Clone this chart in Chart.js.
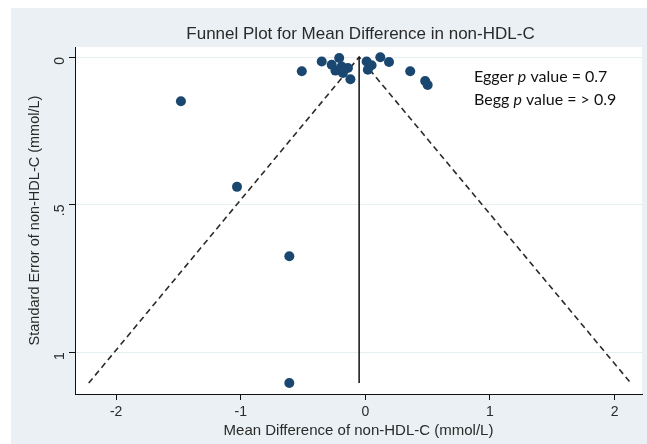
<!DOCTYPE html>
<html>
<head>
<meta charset="utf-8">
<script src="https://cdn.jsdelivr.net/npm/chart.js@4"></script>
<style>
  html, body { margin: 0; padding: 0; background: #fff; }
  #wrap { width: 647px; height: 444px; }
</style>
</head>
<body>
<div id="wrap"><canvas id="funnel" width="647" height="444"></canvas></div>
<script>
// study estimates: mean difference and its standard error
const meanDiff = [-1.48, -1.03, -0.61, -0.61, -0.51, -0.35, -0.27, -0.21, -0.24, -0.19, -0.18, -0.14, -0.12, 0.01, 0.05, 0.02, 0.12, 0.19, 0.36, 0.48, 0.50];
const stdErr   = [0.15, 0.44, 0.675, 1.105, 0.048, 0.015, 0.026, 0.003, 0.046, 0.032, 0.054, 0.037, 0.075, 0.015, 0.028, 0.043, 0.001, 0.017, 0.048, 0.081, 0.095];

// pooled line and pseudo 95% limits
const pooledX = [-0.05, -0.05];
const pooledY = [0, 1.105];
const funnelX = [-2.22, -0.05, 2.13];
const funnelY = [1.105, 0, 1.105];

const xTicks = [-2, -1, 0, 1, 2];
const yTicks = [0, 0.5, 1];
const yTickLabels = ['0', '.5', '1'];

const chartTitle = 'Funnel Plot for Mean Difference in non-HDL-C';
const FONT = '"Liberation Sans", Arial, sans-serif';

const toPts = (xs, ys) => xs.map((x, i) => ({ x: x, y: ys[i] }));

const bgPlugin = {
  id: 'bg',
  beforeDraw(chart) {
    const ctx = chart.ctx, a = chart.chartArea;
    ctx.save();
    ctx.fillStyle = '#fff';
    ctx.fillRect(0, 0, chart.width, chart.height);
    ctx.fillStyle = '#eaf0f3';
    ctx.fillRect(11, 8, chart.width - 11, chart.height - 8);
    ctx.fillStyle = '#fff';
    ctx.fillRect(a.left, a.top, a.right - a.left, a.bottom - a.top);
    // title centred over the plot region
    ctx.fillStyle = '#2a2a2a';
    ctx.font = '17px ' + FONT;
    ctx.textAlign = 'center';
    ctx.textBaseline = 'middle';
    ctx.fillText(chartTitle, (a.left + a.right) / 2 + 2, 34);
    ctx.restore();
  }
};

const notePlugin = {
  id: 'note',
  afterDraw(chart) {
    const ctx = chart.ctx;
    const lines = [['Egger ', 'p', ' value = 0.7'], ['Begg ', 'p', ' value = > 0.9']];
    ctx.save();
    ctx.fillStyle = '#111';
    ctx.textBaseline = 'middle';
    lines.forEach((parts, i) => {
      let x = 474;
      const y = 77 + i * 23;
      parts.forEach((p, j) => {
        ctx.font = (j === 1 ? 'italic ' : '') + '16px Lato, "Open Sans", sans-serif';
        ctx.fillText(p, x, y);
        x += ctx.measureText(p).width;
      });
    });
    ctx.restore();
  }
};

new Chart(document.getElementById('funnel').getContext('2d'), {
  type: 'scatter',
  data: {
    datasets: [
      {
        label: 'studies',
        data: toPts(meanDiff, stdErr),
        backgroundColor: '#1a476f',
        borderColor: '#1a476f',
        pointRadius: 5,
        pointBorderWidth: 0
      },
      {
        label: 'pooled',
        data: toPts(pooledX, pooledY),
        showLine: true,
        borderColor: '#111',
        borderWidth: 1.5,
        pointRadius: 0
      },
      {
        label: 'limits',
        data: toPts(funnelX, funnelY),
        showLine: true,
        borderColor: '#2a2a2a',
        borderWidth: 1.6,
        borderDash: [6, 4],
        pointRadius: 0
      }
    ]
  },
  options: {
    responsive: false,
    animation: false,
    layout: { padding: { left: 0, right: 5, top: 47, bottom: 0 } },
    plugins: {
      legend: { display: false },
      tooltip: { enabled: false },
      title: { display: false }
    },
    scales: {
      x: {
        type: 'linear',
        min: -2.33,
        max: 2.22,
        afterBuildTicks: s => { s.ticks = xTicks.map(v => ({ value: v })); },
        afterFit: s => { s.height = 50; },
        border: { display: true, color: '#111', width: 1 },
        grid: { drawOnChartArea: false, drawTicks: true, tickLength: 6, tickColor: '#111' },
        ticks: {
          color: '#2a2a2a',
          padding: 4,
          font: { family: FONT, size: 14 }
        },
        title: {
          display: true,
          text: 'Mean Difference of non-HDL-C (mmol/L)',
          color: '#2a2a2a',
          font: { family: FONT, size: 15 },
          padding: { top: 2, bottom: 4 }
        }
      },
      y: {
        type: 'linear',
        reverse: true,
        min: -0.034,
        max: 1.142,
        afterBuildTicks: s => { s.ticks = yTicks.map(v => ({ value: v })); },
        afterFit: s => { s.width = 75; },
        border: { display: true, color: '#111', width: 1 },
        grid: { color: '#e6eef1', lineWidth: 1, drawTicks: true, tickLength: 6, tickColor: '#111' },
        ticks: {
          color: '#2a2a2a',
          padding: 9,
          minRotation: 90,
          maxRotation: 90,
          font: { family: FONT, size: 14 },
          callback: v => yTickLabels[yTicks.indexOf(v)]
        },
        title: {
          display: true,
          text: 'Standard Error of non-HDL-C (mmol/L)',
          color: '#2a2a2a',
          font: { family: FONT, size: 14.5 },
          padding: { top: 26, bottom: 4 }
        }
      }
    }
  },
  plugins: [bgPlugin, notePlugin]
});
</script>
</body>
</html>
